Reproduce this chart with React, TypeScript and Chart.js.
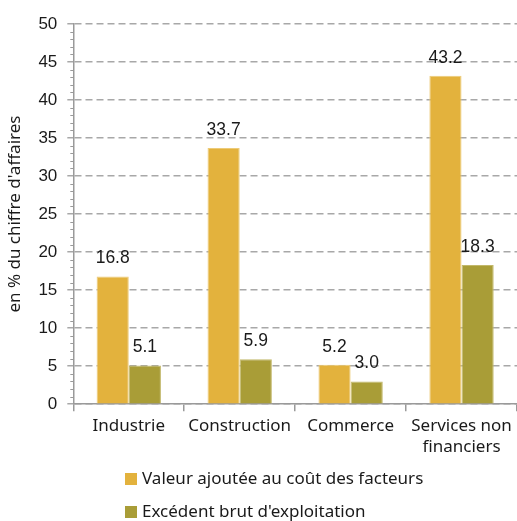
import React, { useEffect, useRef } from "react";
import { Chart, registerables } from "chart.js";

Chart.register(...registerables);

const categories: (string | string[])[] = ["Industrie", "Construction", "Commerce", ["Services non", "financiers"]];
const valeurAjoutee = [16.8, 33.7, 5.2, 43.2];
const excedentBrut = [5.1, 5.9, 3.0, 18.3];
const seriesNames = ["Valeur ajoutée au coût des facteurs", "Excédent brut d'exploitation"];
const yTitle = "en % du chiffre d'affaires";

const YELLOW = "#E3B23D";
const GREEN = "#A99D37";

const valueLabels = {
  id: "valueLabels",
  afterDatasetsDraw(chart: any) {
    const ctx = chart.ctx;
    ctx.save();
    ctx.font = '17.5px "Liberation Sans", Arial, sans-serif';
    ctx.fillStyle = "#1a1a1a";
    ctx.textAlign = "center";
    ctx.textBaseline = "alphabetic";
    chart.data.datasets.forEach((ds: any, i: number) => {
      const meta = chart.getDatasetMeta(i);
      meta.data.forEach((bar: any, j: number) => {
        ctx.fillText(ds.data[j].toFixed(1), bar.x, bar.y - 13);
      });
    });
    ctx.restore();
  },
};

const minorTicks = {
  id: "minorTicks",
  afterDraw(chart: any) {
    const y = chart.scales.y;
    const ctx = chart.ctx;
    const x0 = chart.chartArea.left;
    ctx.save();
    ctx.strokeStyle = "#9a9a9a";
    ctx.lineWidth = 1;
    for (let v = y.min; v <= y.max; v += 1) {
      if (v % 5 === 0) continue;
      const py = Math.round(y.getPixelForValue(v)) + 0.5;
      ctx.beginPath();
      ctx.moveTo(x0 - 3, py);
      ctx.lineTo(x0, py);
      ctx.stroke();
    }
    ctx.restore();
  },
};

const legendPlugin = {
  id: "customLegend",
  afterDraw(chart: any) {
    const ctx = chart.ctx;
    ctx.save();
    ctx.font = '17px "Noto Sans", sans-serif';
    ctx.textBaseline = "middle";
    ctx.textAlign = "left";
    chart.data.datasets.forEach((ds: any, i: number) => {
      const cy = 479 + i * 33;
      ctx.fillStyle = ds.backgroundColor;
      ctx.fillRect(125, cy - 6, 12, 12);
      ctx.fillStyle = "#1a1a1a";
      ctx.fillText(ds.label, 142, cy);
    });
    ctx.restore();
  },
};

export default function App() {
  const ref = useRef<HTMLCanvasElement>(null);
  useEffect(() => {
    document.body.style.margin = "0";
    const chart = new Chart(ref.current!, {
      type: "bar",
      data: {
        labels: categories,
        datasets: [
          {
            label: seriesNames[0],
            data: valeurAjoutee,
            backgroundColor: YELLOW,
            borderColor: "#EDCB78",
            borderWidth: 1,
            categoryPercentage: 0.58,
            barPercentage: 1,
          },
          {
            label: seriesNames[1],
            data: excedentBrut,
            backgroundColor: GREEN,
            borderColor: "#C2B86A",
            borderWidth: 1,
            categoryPercentage: 0.58,
            barPercentage: 1,
          },
        ],
      },
      options: {
        responsive: false,
        animation: false,
        devicePixelRatio: 1,
        layout: { padding: { top: 24, right: 0, bottom: 59, left: 5 } },
        plugins: { legend: { display: false }, tooltip: { enabled: false } },
        scales: {
          x: {
            offset: true,
            grid: {
              offset: true,
              drawOnChartArea: false,
              drawTicks: true,
              tickLength: 7,
              color: "#9a9a9a",
              lineWidth: 1.5,
            },
            border: { color: "#9a9a9a", width: 1.5 },
            ticks: {
              font: { family: '"Noto Sans", sans-serif', size: 17 },
              color: "#1a1a1a",
              padding: 5,
              maxRotation: 0,
              autoSkip: false,
            },
          },
          y: {
            min: 0,
            max: 50,
            ticks: {
              stepSize: 5,
              font: { family: '"Liberation Sans", Arial, sans-serif', size: 17 },
              color: "#1a1a1a",
              padding: 10,
            },
            grid: { color: "#a8a8a8", lineWidth: 1.5, tickLength: 6 },
            border: { color: "#9a9a9a", width: 1.5, dash: [7, 4] },
            title: {
              display: true,
              text: yTitle,
              font: { family: '"Noto Sans", sans-serif', size: 17 },
              color: "#1a1a1a",
              padding: { top: 0, bottom: 3 },
            },
          },
        },
      },
      plugins: [valueLabels, minorTicks, legendPlugin],
    });
    return () => chart.destroy();
  }, []);
  return (
    <div style={{ width: 517, height: 521 }}>
      <canvas ref={ref} width={517} height={521} />
    </div>
  );
}
